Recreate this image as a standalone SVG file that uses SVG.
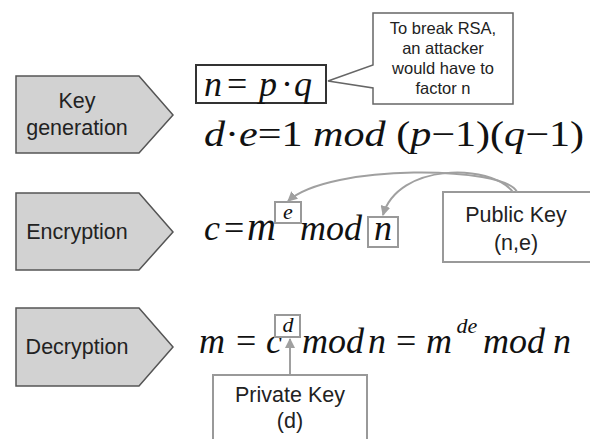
<svg xmlns="http://www.w3.org/2000/svg" width="590" height="439" viewBox="0 0 590 439">
<style>
.step{fill:#d2d2d2;stroke:#555;stroke-width:1.5}
.lbl{font-family:"Liberation Sans",Arial,sans-serif;font-size:21.5px;fill:#222;text-anchor:middle}
.note{font-family:"Liberation Sans",Arial,sans-serif;font-size:16.5px;fill:#222;text-anchor:middle}
.math{font-family:"Liberation Serif","Times New Roman",serif;font-size:36px;fill:#111}
.it{font-style:italic}
.sup{font-family:"Liberation Serif","Times New Roman",serif;font-size:22px;font-style:italic;fill:#111;text-anchor:middle}
.gbox{fill:#fff;stroke:#999;stroke-width:2}
.conn{fill:none;stroke:#a0a0a0;stroke-width:2;marker-end:url(#ah)}
</style>
<defs>
<marker id="ah" viewBox="0 0 10 10" refX="9" refY="5" markerWidth="5" markerHeight="5" orient="auto">
<path d="M0,0 L10,5 L0,10 z" fill="#a0a0a0"/>
</marker>
</defs>
<rect width="590" height="439" fill="#fff"/>

<g id="keygen">
<polygon class="step" points="16,76 139,76 173,115 139,153 16,153"/>
<text class="lbl" x="77" y="108">Key</text>
<text class="lbl" x="77" y="135">generation</text>
</g>
<g id="encryption">
<polygon class="step" points="16,193 139,193 173,232 139,270 16,270"/>
<text class="lbl" x="77" y="239">Encryption</text>
</g>
<g id="decryption">
<polygon class="step" points="16,308 139,308 173,347 139,386 16,386"/>
<text class="lbl" x="77" y="354">Decryption</text>
</g>

<g id="formula-n">
<rect x="196" y="65" width="130" height="38" fill="#fff" stroke="#333" stroke-width="2"/>
<text class="math" x="204 227 259 281 294" y="96"><tspan class="it">n</tspan>=<tspan class="it">p</tspan>·<tspan class="it">q</tspan></text>
</g>
<g id="callout">
<path d="M373,13 H513 V104 H373 V88 L328,81 L373,65 Z" fill="#fff" stroke="#666" stroke-width="1.5"/>
<text class="note" x="443" y="34">To break RSA,</text>
<text class="note" x="443" y="54">an attacker</text>
<text class="note" x="443" y="74">would have to</text>
<text class="note" x="443" y="94">factor n</text>
</g>
<g id="formula-de">
<text class="math" x="204" y="146" textLength="380" lengthAdjust="spacingAndGlyphs"><tspan class="it">d</tspan>·<tspan class="it">e</tspan>=1 <tspan class="it">mod</tspan> (<tspan class="it">p</tspan>−1)(<tspan class="it">q</tspan>−1)</text>
</g>

<g id="formula-enc">
<text class="math" x="204 224 247" y="240"><tspan class="it">c</tspan>=<tspan class="it" font-size="40">m</tspan></text>
<rect class="gbox" x="275" y="202" width="26" height="21"/>
<text class="sup" x="288" y="219">e</text>
<text class="math it" x="300" y="240">mod</text>
<rect class="gbox" x="368" y="217" width="30" height="30"/>
<text class="math it" x="374" y="240">n</text>
</g>
<g id="public-key">
<rect class="gbox" x="443" y="192" width="160" height="70"/>
<text class="lbl" x="516" y="222">Public Key</text>
<text class="lbl" x="516" y="250">(n,e)</text>
</g>

<g id="formula-dec">
<text class="math" x="199 236 266" y="353"><tspan class="it">m</tspan>=<tspan class="it">c</tspan></text>
<rect class="gbox" x="275" y="315" width="25" height="22"/>
<text class="sup" x="288" y="332">d</text>
<text class="math it" x="302" y="353">mod</text>
<text class="math it" x="368" y="353">n</text>
<text class="math" x="396" y="353">=</text>
<text class="math it" x="426" y="353">m</text>
<text class="sup" x="467" y="333" font-size="20">de</text>
<text class="math it" x="483" y="353">mod</text>
<text class="math it" x="553" y="353">n</text>
</g>
<g id="private-key">
<rect class="gbox" x="213" y="375" width="154" height="80"/>
<text class="lbl" x="290" y="402">Private Key</text>
<text class="lbl" x="290" y="428">(d)</text>
</g>

<g id="connectors">
<path class="conn" d="M517,192 C505,166 330,163 288,201"/>
<path class="conn" d="M513,192 C490,163 398,163 383,215"/>
<path class="conn" d="M290,374 L290,339"/>
</g>
</svg>
